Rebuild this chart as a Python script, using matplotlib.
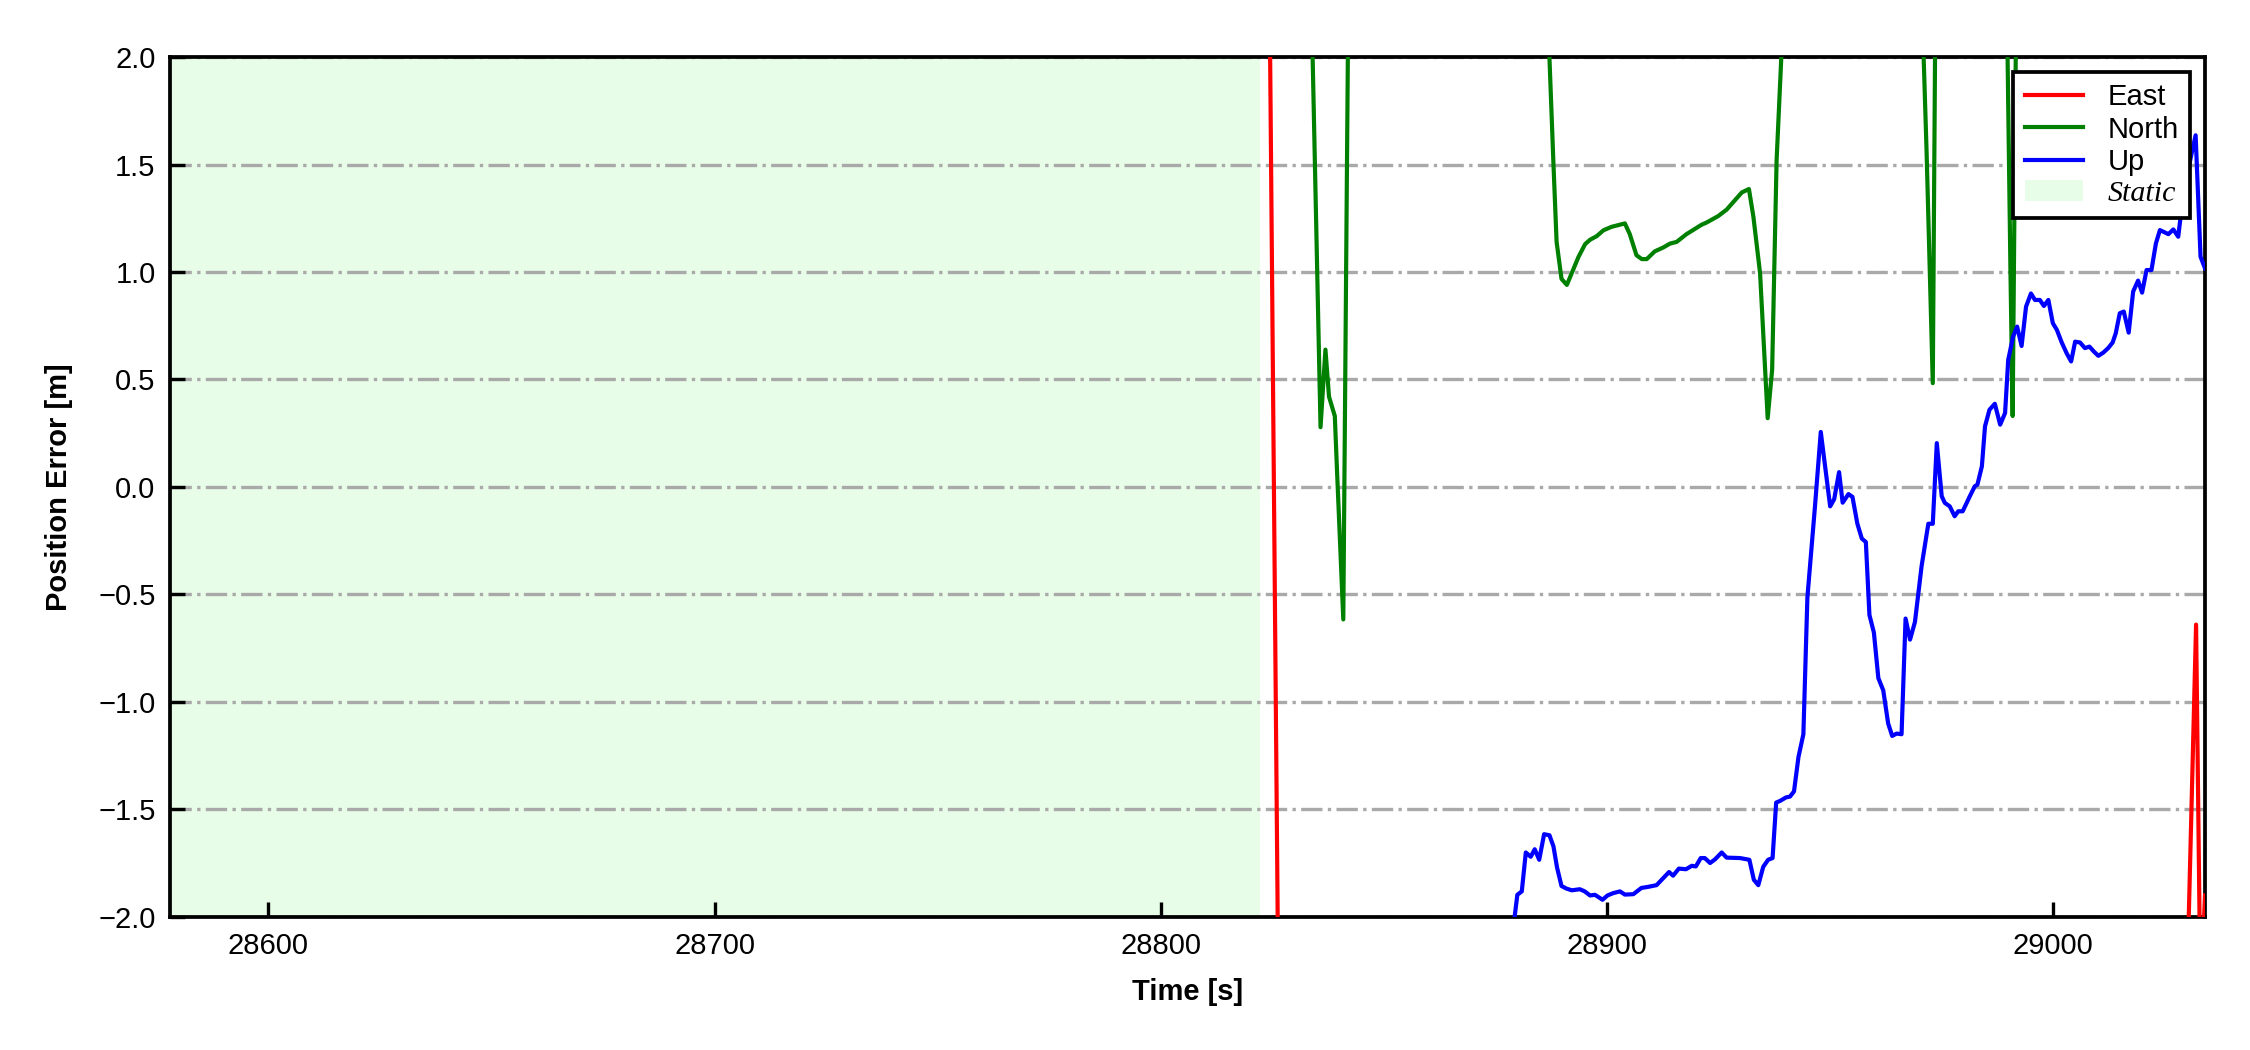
import matplotlib
matplotlib.use("Agg")
import matplotlib.pyplot as plt
from matplotlib.patches import Patch
from matplotlib.lines import Line2D

# ---------------- DATA ----------------
# time [s] and position error [m] per component (values outside +-2 m are clipped by the axes)
east_t = [28824, 28827, 28870, 28930, 28990, 29030, 29032, 29033, 29034]
east_v = [3.2, -3.9, -4.6, -5.1, -3.8, -2.3, -0.64, -2.4, -1.9]

north_t = [28824, 28833, 28835.8, 28836.9, 28837.7, 28839.0, 28839.5, 28840.9, 28842,
           28860, 28886, 28888.0, 28888.7, 28889.8, 28891.0, 28893.6, 28895.1, 28896.2,
           28897.7, 28899.2, 28901.0, 28904.0, 28905.1, 28906.6, 28907.8, 28908.9, 28910.7,
           28912.6, 28914.1, 28915.6, 28917.8, 28921.2, 28922.3, 28924.9, 28926.8, 28930.2,
           28931.8, 28932.8, 28934.3, 28936.0, 28937.0, 28938.0, 28939.5, 28955, 28970.5,
           28971.6, 28973.0, 28974, 28982, 28989.5, 28990.4, 28990.9, 28992, 29010, 29034]
north_v = [6.5, 3.0, 0.278, 0.639, 0.42, 0.33, 0.073, -0.616, 2.2,
           4.1, 2.6, 1.5, 1.14, 0.968, 0.94, 1.07, 1.13, 1.15,
           1.167, 1.194, 1.21, 1.226, 1.176, 1.078, 1.06, 1.06, 1.096,
           1.114, 1.132, 1.14, 1.176, 1.22, 1.23, 1.26, 1.29, 1.37,
           1.386, 1.257, 0.994, 0.32, 0.545, 1.52, 2.2, 3.2, 2.3,
           1.567, 0.483, 3.5, 3.0, 2.4, 1.01, 0.33, 3.0, 3.5, 3.0]

up_t = [28824, 28850, 28879.0, 28879.9, 28880.9, 28881.8, 28882.9, 28883.8, 28884.8,
        28885.9, 28887.1, 28888.0, 28888.8, 28889.8, 28890.9, 28892.1, 28893.9, 28895.0,
        28896.2, 28897.3, 28899.0, 28900.1, 28901.4, 28902.9, 28904.0, 28905.9, 28907.7,
        28909.2, 28911.1, 28912.6, 28913.9, 28914.8, 28916.1, 28917.7, 28919.0, 28919.9,
        28921.0, 28921.9, 28923.1, 28924.2, 28925.7, 28926.8, 28929.8, 28931.9, 28932.9,
        28933.9, 28935.0, 28936.1, 28937.1, 28937.9, 28938.8, 28940.1, 28941.0, 28941.9,
        28942.9, 28944.0, 28944.9, 28946.6, 28947.9, 28948.8, 28950.0, 28950.9, 28952.0,
        28952.8, 28954.1, 28955.0, 28956.1, 28957.1, 28958.0, 28958.8, 28959.8, 28960.8,
        28961.9, 28963.0, 28963.9, 28964.9, 28966.0, 28966.9, 28967.9, 28969.0, 28970.5,
        28972.0, 28973.0, 28973.9, 28975.0, 28975.7, 28976.8, 28977.9, 28978.7, 28979.7,
        28981.3, 28982.4, 28983.0, 28984.0, 28984.7, 28985.7, 28986.9, 28988.1, 28989.2,
        28989.9, 28991.0, 28991.9, 28992.9, 28993.9, 28995.0, 28995.9, 28997.0, 28997.9,
        28998.9, 28999.9, 29000.8, 29001.9, 29003.0, 29004.0, 29004.9, 29006.0, 29007.1,
        29008.1, 29009.1, 29010.1, 29011.2, 29012.3, 29013.3, 29014.0, 29014.9, 29015.8,
        29016.9, 29017.9, 29019.0, 29019.9, 29020.9, 29022.0, 29023.0, 29023.9, 29025.8,
        29026.9, 29028.0, 29028.8, 29029.9, 29031.0, 29031.9, 29033.0, 29034.0]
up_v = [-4.8, -3.5, -2.05, -1.897, -1.881, -1.70, -1.72, -1.685, -1.734,
        -1.615, -1.62, -1.672, -1.77, -1.856, -1.868, -1.876, -1.871, -1.881,
        -1.90, -1.897, -1.92, -1.90, -1.889, -1.881, -1.896, -1.894, -1.865,
        -1.86, -1.852, -1.819, -1.791, -1.808, -1.775, -1.778, -1.762, -1.765,
        -1.726, -1.726, -1.749, -1.732, -1.70, -1.724, -1.726, -1.734, -1.827,
        -1.852, -1.767, -1.734, -1.726, -1.468, -1.46, -1.444, -1.44, -1.416,
        -1.256, -1.15, -0.514, -0.09, 0.256, 0.106, -0.09, -0.057, 0.069,
        -0.073, -0.033, -0.046, -0.171, -0.24, -0.256, -0.595, -0.677, -0.889,
        -0.946, -1.10, -1.158, -1.147, -1.15, -0.612, -0.71, -0.628, -0.367,
        -0.171, -0.171, 0.204, -0.043, -0.074, -0.09, -0.136, -0.113, -0.113,
        -0.043, 0.003, 0.011, 0.096, 0.282, 0.359, 0.387, 0.29, 0.344,
        0.591, 0.70, 0.746, 0.656, 0.839, 0.90, 0.87, 0.87, 0.842,
        0.87, 0.762, 0.731, 0.672, 0.622, 0.584, 0.676, 0.672, 0.646,
        0.653, 0.63, 0.61, 0.625, 0.646, 0.672, 0.715, 0.808, 0.816,
        0.718, 0.909, 0.96, 0.904, 1.009, 1.009, 1.133, 1.195, 1.176,
        1.198, 1.164, 1.303, 1.443, 1.551, 1.636, 1.071, 1.017]

static_span = [28578, 28822.2]
x_range = [28578, 29034]
y_ticks = [-2.0, -1.5, -1.0, -0.5, 0.0, 0.5, 1.0, 1.5, 2.0]
x_ticks = [28600, 28700, 28800, 28900, 29000]
series_names = ["East", "North", "Up", "Static"]
# --------------------------------------

STATIC_COLOR = "#e8fde8"


def main():
    plt.rcParams["font.family"] = ["Liberation Sans", "DejaVu Sans"]

    fig = plt.figure(figsize=(7.5, 3.5), dpi=300)
    ax = fig.add_axes([0.0756, 0.1267, 0.9044, 0.819])

    ax.axvspan(static_span[0], static_span[1], color=STATIC_COLOR, lw=0, zorder=0)
    ax.yaxis.grid(True, linestyle="-.", color="darkgray", linewidth=0.8, zorder=1)
    ax.set_axisbelow(True)

    ax.plot(east_t, east_v, color="red", lw=1.0, zorder=3)
    ax.plot(north_t, north_v, color="green", lw=1.0, zorder=3)
    ax.plot(up_t, up_v, color="blue", lw=1.0, zorder=3)

    ax.set_xlim(x_range)
    ax.set_ylim(-2, 2)
    ax.set_xticks(x_ticks)
    ax.set_yticks(y_ticks)
    ax.ticklabel_format(axis="x", useOffset=False, style="plain")
    ax.tick_params(direction="in", length=3.5, width=0.8, labelsize=7.0, pad=3.5,
                   top=False, right=False)
    for sp in ax.spines.values():
        sp.set_linewidth(0.9)

    ax.set_xlabel("Time [s]", fontsize=7, fontweight="bold", labelpad=4.5)
    ax.set_ylabel("Position Error [m]", fontsize=7, fontweight="bold", labelpad=6)

    handles = [
        Line2D([], [], color="red", lw=1.0),
        Line2D([], [], color="green", lw=1.0),
        Line2D([], [], color="blue", lw=1.0),
        Patch(facecolor=STATIC_COLOR, edgecolor="none"),
    ]
    leg = ax.legend(handles, series_names, loc="upper right", fontsize=7.0,
                    frameon=True, fancybox=False, framealpha=1, edgecolor="black",
                    borderaxespad=0.5, borderpad=0.4, labelspacing=0.15,
                    handlelength=2.0, handletextpad=0.84)
    leg.get_frame().set_linewidth(0.9)
    static_txt = leg.get_texts()[3]
    static_txt.set_fontfamily(["Liberation Serif", "DejaVu Serif"])
    static_txt.set_fontstyle("italic")
    static_txt.set_fontsize(7.2)

    fig.savefig("out.png", dpi=300)
    plt.close(fig)


if __name__ == "__main__":
    main()
